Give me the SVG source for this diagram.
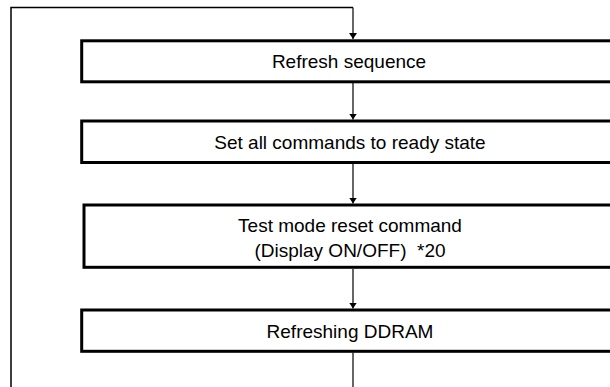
<svg xmlns="http://www.w3.org/2000/svg" width="610" height="387" viewBox="0 0 610 387">
  <defs>
    <marker id="arr" viewBox="0 0 6 8" refX="6" refY="4" markerWidth="6" markerHeight="8" markerUnits="userSpaceOnUse" orient="auto">
      <path d="M0,0 L6,4 L0,8 Z" fill="#000"/>
    </marker>
  </defs>
  <style>
    .box { fill: #fff; stroke: #000; stroke-width: 3; }
    .line { fill: none; stroke: #000; stroke-width: 1.2; }
    .loop { fill: none; stroke: #000; stroke-width: 1.5; }
    .lbl { font-family: "Liberation Sans", Arial, sans-serif; font-size: 19px; fill: #000; text-anchor: middle; }
  </style>
  <rect width="610" height="387" fill="#fff"/>
  <g id="connectors">
    <polyline class="loop" points="11,387 11,7.5 353,7.5"/>
    <line class="line" x1="353" y1="7.5" x2="353" y2="39" marker-end="url(#arr)"/>
    <line class="line" x1="353" y1="83" x2="353" y2="119.5" marker-end="url(#arr)"/>
    <line class="line" x1="353" y1="164" x2="353" y2="203.5" marker-end="url(#arr)"/>
    <line class="line" x1="353" y1="269" x2="353" y2="308.5" marker-end="url(#arr)"/>
    <line class="line" x1="353" y1="352.5" x2="353" y2="387"/>
  </g>
  <g id="n1">
    <rect class="box" x="81.7" y="40.8" width="560" height="41"/>
    <text class="lbl" x="349" y="68">Refresh sequence</text>
  </g>
  <g id="n2">
    <rect class="box" x="81.7" y="121" width="560" height="41.5"/>
    <text class="lbl" x="350" y="148.5">Set all commands to ready state</text>
  </g>
  <g id="n3">
    <rect class="box" x="84" y="205" width="560" height="62.3"/>
    <text class="lbl" x="350" y="232">Test mode reset command</text>
    <text class="lbl" x="350" y="257" xml:space="preserve">(Display ON/OFF)  *20</text>
  </g>
  <g id="n4">
    <rect class="box" x="81.7" y="310" width="560" height="41.3"/>
    <text class="lbl" x="350" y="337.5">Refreshing DDRAM</text>
  </g>
</svg>
